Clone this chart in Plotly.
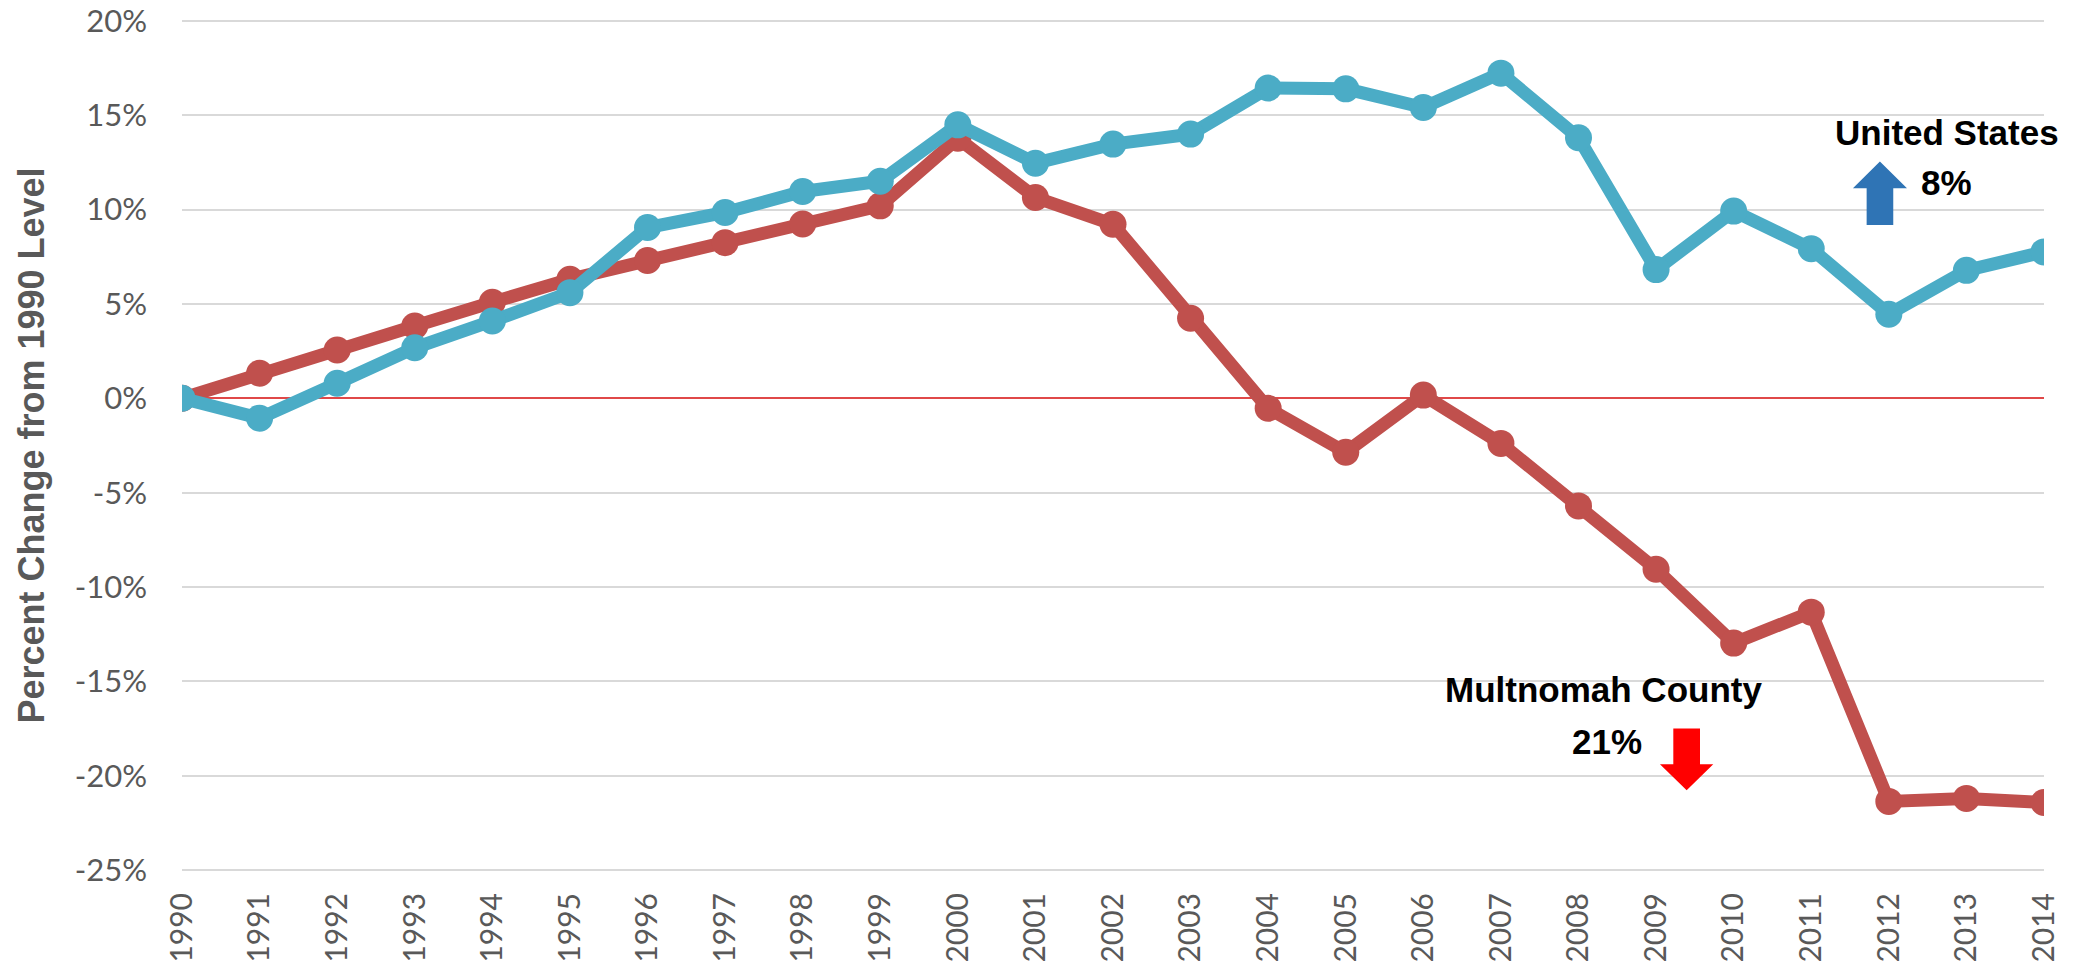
import plotly.graph_objects as go

years = [1990, 1991, 1992, 1993, 1994, 1995, 1996, 1997, 1998, 1999, 2000, 2001, 2002,
         2003, 2004, 2005, 2006, 2007, 2008, 2009, 2010, 2011, 2012, 2013, 2014]
united_states = [0, -1.05, 0.8, 2.68, 4.1, 5.6, 9.05, 9.85, 10.96, 11.5, 14.49, 12.46, 13.47,
                 14.0, 16.44, 16.4, 15.41, 17.23, 13.81, 6.82, 9.92, 7.93, 4.46, 6.78, 7.76]
multnomah = [0, 1.33, 2.56, 3.83, 5.09, 6.31, 7.3, 8.25, 9.24, 10.2, 13.78, 10.64, 9.22,
             4.24, -0.53, -2.86, 0.17, -2.39, -5.7, -9.06, -12.97, -11.33, -21.36, -21.2, -21.42]

y_tickvals = [20, 15, 10, 5, 0, -5, -10, -15, -20, -25]
y_ticktext = ["20%", "15%", "10%", "5%", "0%", "-5%", "-10%", "-15%", "-20%", "-25%"]
x_ticktext = [str(y) for y in years]

RED = "#C0504D"
BLUE = "#4BACC6"

fig = go.Figure()
fig.add_trace(go.Scatter(x=years, y=multnomah, mode="lines+markers", name="Multnomah County",
                         line=dict(color=RED, width=13), marker=dict(color=RED, size=27)))
fig.add_trace(go.Scatter(x=years, y=united_states, mode="lines+markers", name="United States",
                         line=dict(color=BLUE, width=13), marker=dict(color=BLUE, size=27)))

# arrows (data coordinates)
blue_arrow = ("M 2011.714 9.19 L 2011.714 11.135 L 2011.537 11.135 L 2011.885 12.545 "
              "L 2012.234 11.135 L 2012.057 11.135 L 2012.057 9.19 Z")
red_arrow = ("M 2009.222 -17.497 L 2009.222 -19.39 L 2009.05 -19.39 L 2009.394 -20.77 "
             "L 2009.737 -19.39 L 2009.566 -19.39 L 2009.566 -17.497 Z")
fig.add_shape(type="path", path=blue_arrow, xref="x", yref="y",
              fillcolor="#2F74B5", line=dict(width=0))
fig.add_shape(type="path", path=red_arrow, xref="x", yref="y",
              fillcolor="#FF0000", line=dict(width=0))

afont = dict(family="Liberation Sans, Arial, sans-serif", size=35, color="#000000")
for txt, x, y in [("United States", 2012.749, 14.09), ("8%", 2012.745, 11.42),
                  ("Multnomah County", 2008.316, -15.41), ("21%", 2008.363, -18.17)]:
    fig.add_annotation(x=x, y=y, xref="x", yref="y", text="<b>" + txt + "</b>",
                       showarrow=False, font=afont, xanchor="center", yanchor="middle")

fig.update_layout(
    width=2067, height=960,
    margin=dict(l=174, r=31, t=11, b=96),
    paper_bgcolor="white", plot_bgcolor="white",
    showlegend=False,
    font=dict(family="Lato", color="#595959"),
)
fig.update_xaxes(range=[1990, 2014], tickvals=years, ticktext=x_ticktext, tickangle=-90,
                 showgrid=False, zeroline=False, showline=False, ticks="",
                 tickfont=dict(family="Lato", size=30, color="#595959"),
                 ticklabelstandoff=14, automargin=False, ticklabeloverflow="allow")
fig.update_yaxes(range=[-25.1, 20.1], tickvals=y_tickvals, ticktext=y_ticktext,
                 showgrid=True, gridcolor="#D9D9D9", gridwidth=1.5,
                 zeroline=True, zerolinecolor="#E04848", zerolinewidth=1.5,
                 showline=False, ticks="", automargin=False, ticklabeloverflow="allow",
                 tickfont=dict(family="Lato", size=31, color="#595959"),
                 ticklabelstandoff=34,
                 title=dict(text="<b>Percent Change from 1990 Level</b>",
                            font=dict(family="Liberation Sans", size=36, color="#595959"),
                            standoff=19))

fig.write_html("out.html")
